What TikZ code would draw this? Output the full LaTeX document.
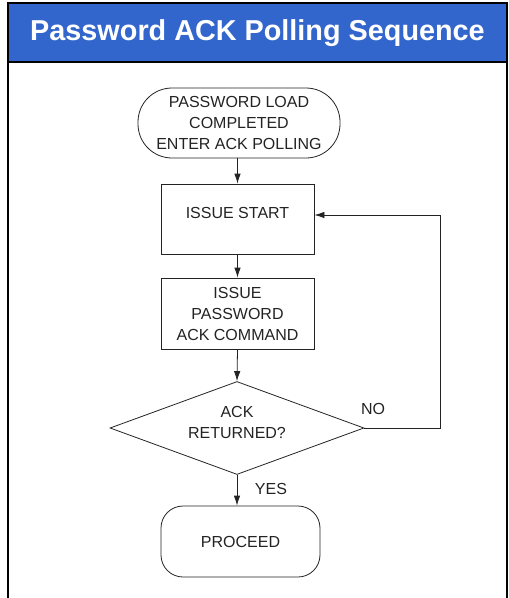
\documentclass[tikz,border=0pt]{standalone}
\usepackage{fontspec}
\setmainfont{Liberation Sans}
\usetikzlibrary{shapes.geometric,arrows.meta}

\definecolor{titleblue}{RGB}{51,102,204}
\definecolor{ink}{RGB}{35,35,35}

\begin{document}
\begin{tikzpicture}[x=1pt,y=-1pt,
		flowline/.style={ink,line width=0.8pt},
		flowarrow/.style={flowline,-{Latex[length=10pt,width=6.5pt]}},
		flowtext/.style={text=ink,align=center,font=\fontsize{16}{21}\selectfont},
		box/.style={flowtext,draw=ink,line width=0.8pt,minimum width=153pt,minimum height=70pt},
		terminal/.style={box,rounded corners=#1},
		decision/.style={flowtext,draw=ink,line width=0.8pt,diamond,aspect=2.73,inner sep=0pt,minimum width=254pt,minimum height=93pt}]
	\useasboundingbox (0,0) rectangle (509,598);

	\begin{scope} % frame
		\providecommand{\frametop}{3}
		\providecommand{\bandbottom}{62}
		\fill[titleblue] (8,\frametop) rectangle (507,\bandbottom);
		\begin{scope}[line width=2pt,black]
			\draw (8,600) -- (8,\frametop) -- (507,\frametop) -- (507,600);
			\draw (8,\bandbottom) -- (507,\bandbottom);
		\end{scope}
		\node[text=white,font=\fontsize{28.8}{30}\selectfont\bfseries] (title) at (257.5,33) {Password ACK Polling Sequence};
	\end{scope}

	\begin{scope} % flow chart
		\node[terminal=34pt,minimum width=202pt] (start) at (239,123) {PASSWORD LOAD\\COMPLETED\\ENTER ACK POLLING};
		\node[box,text depth=12pt] (issue) at (237.5,219) {ISSUE START};
		\node[box,minimum height=71pt] (ackcmd) at (237.5,313.5) {ISSUE\\PASSWORD\\ACK COMMAND};
		\node[decision,text depth=12pt] (check) at (237,428) {ACK\\RETURNED?};
		\node[terminal=22pt,minimum width=159pt,minimum height=71pt] (proceed) at (240.5,541.5) {PROCEED};

		\coordinate (loop) at (440,428);

		\node[flowtext] (lblno) at (373,409) {NO};
		\node[flowtext] (lblyes) at (271,489) {YES};

		\draw[flowarrow] (start.south -| issue.north) -- (issue.north);
		\draw[flowarrow] (issue.south) -- (ackcmd.north);
		\draw[flowarrow] (ackcmd.south) -- (check.north);
		\draw[flowarrow] (check.south) -- (check.south |- proceed.north);
		\draw[flowarrow] (check.east) -- (loop) |- ([yshift=4pt]issue.east);
	\end{scope}
\end{tikzpicture}
\end{document}
